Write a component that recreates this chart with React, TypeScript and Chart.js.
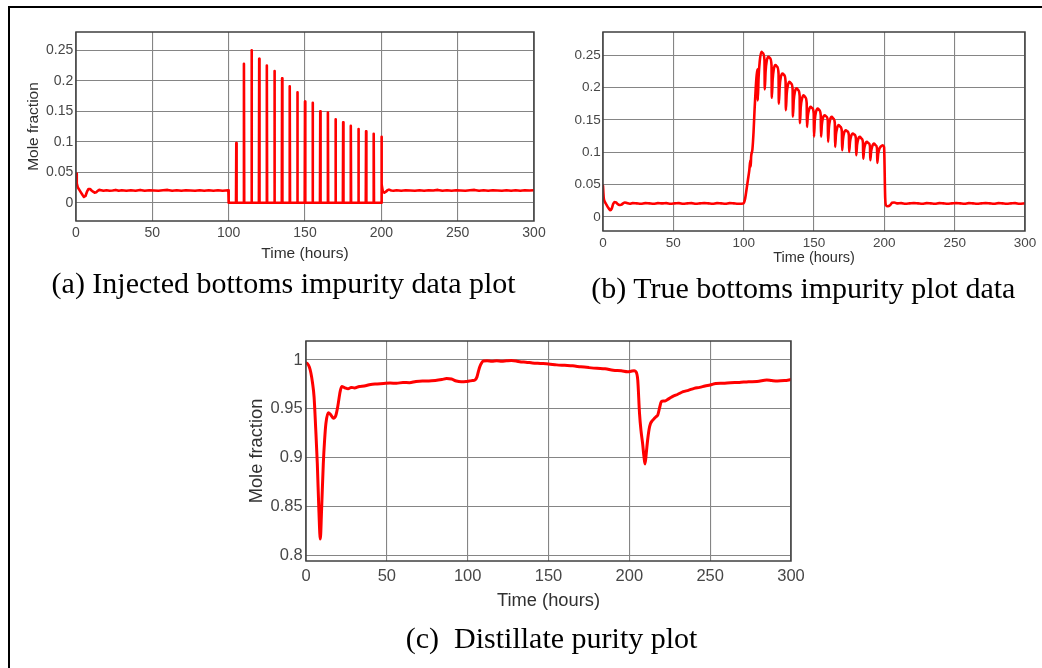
import React, { useEffect, useRef } from "react";
import { Chart, registerables } from "chart.js";

Chart.register(...registerables);

type Pt = [number, number];

// ---------- shared axis content ----------
const timeMin = 0;
const timeMax = 300;
const timeStep = 50;
const xAxisLabel = "Time (hours)";
const yAxisLabel = "Mole fraction";

// ---------- (a) injected bottoms impurity (measured, pulsed) ----------
const injectedStart: Pt[] = [
  [0, 0.048], [0.5, 0.032], [1.2, 0.025], [2.2, 0.021], [3.2, 0.017], [4.2, 0.013],
  [5.2, 0.0095], [6.2, 0.011], [7.2, 0.018], [8.2, 0.0225], [9.2, 0.0225], [10.2, 0.02],
  [11.2, 0.018], [12.2, 0.0165], [13.2, 0.017], [14.2, 0.0195], [15.2, 0.021], [16.5, 0.0205],
  [18, 0.0195], [20, 0.0205], [22, 0.0195], [24, 0.02], [26, 0.021], [28, 0.0195],
  [30, 0.0205], [33, 0.0195], [36, 0.0205], [39, 0.0195], [42, 0.021], [45, 0.0195],
  [48, 0.0205], [51, 0.02], [54, 0.0195], [57, 0.0205], [60, 0.021], [63, 0.0195],
  [66, 0.0205], [69, 0.0195], [72, 0.0205], [75, 0.02], [78, 0.0195], [81, 0.0205],
  [84, 0.0195], [87, 0.0205], [90, 0.0195], [93, 0.0205], [96, 0.0195], [99.8, 0.0205],
];
const injectedPulses: Pt[] = [
  [100, 0], [104.8, 0], [105, 0.098], [105.2, 0],
  [109.8, 0], [110, 0.228], [110.2, 0],
  [114.8, 0], [115, 0.25], [115.2, 0],
  [119.8, 0], [120, 0.236], [120.2, 0],
  [124.8, 0], [125, 0.225], [125.2, 0],
  [129.8, 0], [130, 0.216], [130.2, 0],
  [134.8, 0], [135, 0.204], [135.2, 0],
  [139.8, 0], [140, 0.191], [140.2, 0],
  [144.8, 0], [145, 0.181], [145.2, 0],
  [149.8, 0], [150, 0.166], [150.2, 0],
  [154.8, 0], [155, 0.164], [155.2, 0],
  [159.8, 0], [160, 0.15], [160.2, 0],
  [164.8, 0], [165, 0.148], [165.2, 0],
  [169.8, 0], [170, 0.137], [170.2, 0],
  [174.8, 0], [175, 0.132], [175.2, 0],
  [179.8, 0], [180, 0.126], [180.2, 0],
  [184.8, 0], [185, 0.121], [185.2, 0],
  [189.8, 0], [190, 0.117], [190.2, 0],
  [194.8, 0], [195, 0.113], [195.2, 0],
  [199.8, 0], [200, 0.108], [200.4, 0.03], [201, 0.018],
];
const injectedEnd: Pt[] = [
  [202, 0.0165], [203, 0.018], [204, 0.0205], [205, 0.0215], [206.5, 0.02], [208, 0.0195],
  [210, 0.0205], [213, 0.0195], [216, 0.0205], [219, 0.02], [222, 0.0195], [225, 0.0205],
  [228, 0.0195], [231, 0.0205], [234, 0.02], [237, 0.021], [240, 0.0195], [243, 0.0205],
  [246, 0.0195], [249, 0.0205], [252, 0.02], [255, 0.0195], [258, 0.0205], [261, 0.021],
  [264, 0.0195], [267, 0.0205], [270, 0.0195], [273, 0.0205], [276, 0.02], [279, 0.0195],
  [282, 0.0205], [285, 0.0195], [288, 0.0205], [291, 0.0195], [294, 0.0205], [297, 0.02],
  [300, 0.0205],
];

// ---------- (b) true bottoms impurity ----------
const trueStart: Pt[] = [
  [0, 0.048], [0.5, 0.03], [1.2, 0.024], [2.2, 0.02], [3.2, 0.016], [4.2, 0.013],
  [5.2, 0.0105], [6.2, 0.013], [7.2, 0.02], [8.2, 0.023], [9.2, 0.0225], [10.2, 0.0205],
  [11.2, 0.019], [12.2, 0.0185], [13.2, 0.019], [14.2, 0.021], [15.5, 0.0225], [17, 0.0215],
  [19, 0.0205], [21, 0.0215], [24, 0.021], [27, 0.0205], [30, 0.0215], [33, 0.021],
  [36, 0.0205], [39, 0.0215], [42, 0.021], [45, 0.0215], [48, 0.0205], [51, 0.021],
  [54, 0.0215], [57, 0.0205], [60, 0.021], [63, 0.0215], [66, 0.0205], [69, 0.021],
  [72, 0.0215], [75, 0.021], [78, 0.0205], [81, 0.0215], [84, 0.021], [87, 0.0205],
  [90, 0.0215], [93, 0.021], [96, 0.0205], [99.8, 0.021],
];
const trueArches: Pt[] = [
  [101, 0.028], [102, 0.042], [103, 0.057], [104, 0.072], [104.8, 0.088], [105, 0.078],
  [105.3, 0.093], [106.2, 0.104], [107, 0.13], [107.8, 0.168], [108.6, 0.2], [109.3, 0.22],
  [109.85, 0.228], [110, 0.18], [110.6, 0.215], [111.4, 0.24], [112.6, 0.255], [113.6, 0.253],
  [114.8, 0.242], [115, 0.197], [115.6, 0.225], [116.4, 0.241], [117.6, 0.2474], [118.8, 0.245],
  [119.8, 0.234], [120, 0.184], [120.6, 0.212], [121.4, 0.228], [122.6, 0.2345], [123.8, 0.232],
  [124.8, 0.221], [125, 0.175], [125.6, 0.201], [126.4, 0.216], [127.6, 0.2216], [128.8, 0.219],
  [129.8, 0.209], [130, 0.165], [130.6, 0.19], [131.4, 0.203], [132.6, 0.2088], [133.8, 0.206],
  [134.8, 0.197], [135, 0.155], [135.6, 0.18], [136.4, 0.193], [137.6, 0.1985], [138.8, 0.196],
  [139.8, 0.187], [140, 0.145], [140.6, 0.17], [141.4, 0.182], [142.6, 0.188], [143.8, 0.185],
  [144.8, 0.176], [145, 0.139], [145.6, 0.156], [146.4, 0.165], [147.6, 0.17], [148.8, 0.168],
  [149.8, 0.16], [150, 0.124], [150.6, 0.15], [151.4, 0.162], [152.6, 0.1675], [153.8, 0.165],
  [154.8, 0.157], [155, 0.124], [155.6, 0.143], [156.4, 0.153], [157.6, 0.157], [158.8, 0.155],
  [159.8, 0.149], [160, 0.116], [160.6, 0.138], [161.4, 0.15], [162.6, 0.1546], [163.8, 0.152],
  [164.8, 0.145], [165, 0.108], [165.6, 0.127], [166.4, 0.137], [167.6, 0.1418], [168.8, 0.139],
  [169.8, 0.132], [170, 0.103], [170.6, 0.12], [171.4, 0.13], [172.6, 0.134], [173.8, 0.132],
  [174.8, 0.126], [175, 0.1005], [175.6, 0.116], [176.4, 0.125], [177.6, 0.129], [178.8, 0.127],
  [179.8, 0.121], [180, 0.0954], [180.6, 0.111], [181.4, 0.12], [182.6, 0.1237], [183.8, 0.121],
  [184.8, 0.115], [185, 0.09], [185.6, 0.104], [186.4, 0.112], [187.6, 0.116], [188.8, 0.114],
  [189.8, 0.109], [190, 0.0876], [190.6, 0.101], [191.4, 0.109], [192.6, 0.1134], [193.8, 0.111],
  [194.8, 0.106], [195, 0.0835], [195.6, 0.097], [196.4, 0.105], [197.6, 0.109], [198.8, 0.1108],
  [199.8, 0.108],
];
const trueEnd: Pt[] = [
  [200.6, 0.03], [201.2, 0.018], [202.5, 0.0165], [204, 0.018], [205.5, 0.022], [207, 0.0225],
  [209, 0.021], [212, 0.0215], [215, 0.0205], [218, 0.021], [221, 0.0215], [224, 0.021],
  [227, 0.0205], [230, 0.0215], [233, 0.021], [236, 0.0205], [239, 0.0215], [242, 0.021],
  [245, 0.0205], [248, 0.021], [251, 0.0215], [254, 0.021], [257, 0.0205], [260, 0.0215],
  [263, 0.021], [266, 0.0205], [269, 0.021], [272, 0.0215], [275, 0.021], [278, 0.0205],
  [281, 0.0215], [284, 0.021], [287, 0.0205], [290, 0.021], [293, 0.0215], [296, 0.0205],
  [300, 0.021],
];

// ---------- (c) distillate purity ----------
const distillateStart: Pt[] = [
  [0, 0.997], [1, 0.996], [2, 0.993], [3, 0.987], [4, 0.977], [5, 0.962], [6, 0.93],
  [7, 0.894], [8, 0.845], [8.85, 0.817], [9.6, 0.845], [10.7, 0.894], [11.5, 0.918],
  [12.3, 0.935], [13.8, 0.946], [15.3, 0.944], [16.9, 0.9405], [18.4, 0.943], [19.6, 0.952],
  [21.1, 0.9676], [22.1, 0.973], [24.1, 0.9716], [26, 0.9705], [28, 0.972], [30, 0.9715],
  [33, 0.973], [36, 0.9735], [40, 0.975], [44, 0.9755], [48, 0.976], [52, 0.9765],
  [56, 0.9762], [60, 0.977], [64, 0.9768], [68, 0.978], [72, 0.9785], [76, 0.9785],
  [80, 0.979], [84, 0.98], [87, 0.981], [90, 0.9805], [93, 0.9785], [96, 0.9778],
  [99, 0.978], [101, 0.9785],
];
const distillateMid: Pt[] = [
  [103, 0.979], [104.5, 0.9795], [105.7, 0.9825], [106.6, 0.988], [107.5, 0.993],
  [108.6, 0.997], [109.7, 0.999], [112, 0.9992], [115, 0.9988], [118, 0.9992], [121, 0.9988],
  [124, 0.9992], [127, 0.9995], [130, 0.999], [133, 0.998], [136, 0.9978], [140, 0.997],
  [145, 0.9965], [150, 0.996], [155, 0.995], [160, 0.9945], [165, 0.994], [170, 0.993],
  [175, 0.9922], [180, 0.9915], [185, 0.991], [190, 0.9895], [195, 0.989], [199, 0.988],
  [201, 0.9885], [203, 0.989],
];
const distillateEnd: Pt[] = [
  [204.1, 0.988], [205.2, 0.9796], [206.3, 0.9455], [207.2, 0.928], [208.2, 0.9148],
  [209, 0.902], [209.7, 0.8937], [210.5, 0.905], [211.3, 0.918], [212.2, 0.929],
  [213.1, 0.935], [214.2, 0.938], [215.3, 0.94], [216.5, 0.942], [217.6, 0.9438],
  [218.7, 0.951], [219.8, 0.9574], [221, 0.958], [222.1, 0.958], [224, 0.96],
  [226.6, 0.9625], [230, 0.965], [233.3, 0.9676], [236.5, 0.969], [240.1, 0.971],
  [243.5, 0.972], [246.8, 0.9734], [250, 0.9745], [253.5, 0.976], [258, 0.9762],
  [262.5, 0.9768], [268, 0.977], [273.7, 0.9778], [279, 0.978], [285, 0.9796],
  [288, 0.979], [291.7, 0.9785], [296, 0.979], [300, 0.98],
];

const captionA = "(a) Injected bottoms impurity data plot";
const captionB = "(b) True bottoms impurity plot data";
const captionC = "(c)  Distillate purity plot";

// ---------- layout / styling ----------
const PAGE_W = 1042;
const PAGE_H = 668;
const SANS = '"Liberation Sans", Arial, Helvetica, sans-serif';
const SERIF = '"Liberation Serif", "Times New Roman", serif';
const LINE_RED = "#ff0000";
const GRID = "#858585";
const BOX = "#3f3f3f";
const TICK_TXT = "#474747";
const TITLE_TXT = "#303030";

type PanelSpec = {
  series: Pt[];
  box: { l: number; t: number; r: number; b: number };
  yMin: number;
  yMax: number;
  yStep: number;
  tick: number;
  title: number;
  xTickPad: number;
  xTitleY: number;
  yTickPad: number;
  yTitleX: number | null;
  lw: number;
  smooth: boolean;
};

const panels: PanelSpec[] = [
  {
    series: [...injectedStart, ...injectedPulses, ...injectedEnd],
    box: { l: 76, t: 32, r: 534, b: 221 },
    yMin: -0.03, yMax: 0.28, yStep: 0.05,
    tick: 14, title: 15.5,
    xTickPad: 3.6, xTitleY: 254, yTickPad: 2.7, yTitleX: 33.5, lw: 2.6, smooth: false,
  },
  {
    series: [...trueStart, ...trueArches, ...trueEnd],
    box: { l: 603, t: 32, r: 1025, b: 231 },
    yMin: -0.0216, yMax: 0.2856, yStep: 0.05,
    tick: 13.5, title: 14.5,
    xTickPad: 4.2, xTitleY: 258.3, yTickPad: 2.3, yTitleX: null, lw: 2.6, smooth: true,
  },
  {
    series: [...distillateStart, ...distillateMid, ...distillateEnd],
    box: { l: 306, t: 341, r: 791, b: 561 },
    yMin: 0.7946, yMax: 1.0194, yStep: 0.05,
    tick: 16.5, title: 18.3,
    xTickPad: 5.8, xTitleY: 601, yTickPad: 3.3, yTitleX: 257, lw: 3, smooth: true,
  },
];

const boxPlugin = {
  id: "matlabBox",
  afterDatasetsDraw(chart: any) {
    const { ctx, chartArea: a } = chart;
    ctx.save();
    ctx.strokeStyle = BOX;
    ctx.lineWidth = 1.5;
    ctx.strokeRect(a.left, a.top, a.right - a.left, a.bottom - a.top);
    ctx.restore();
  },
};

const fmt = (v: any) => String(Number(Number(v).toFixed(4)));

function Panel({ spec }: { spec: PanelSpec }) {
  const ref = useRef<HTMLCanvasElement | null>(null);
  useEffect(() => {
    if (!ref.current) return;
    const p = spec;
    const titleLH = p.title * 1.2;
    const chart = new Chart(ref.current, {
      type: "line",
      data: {
        datasets: [
          {
            data: p.series.map(([x, y]) => ({ x, y })),
            borderColor: LINE_RED,
            backgroundColor: LINE_RED,
            borderWidth: p.lw,
            pointRadius: 0,
            tension: 0,
            cubicInterpolationMode: p.smooth ? "monotone" : "default",
            fill: false,
            borderJoinStyle: "round",
            borderCapStyle: "round",
          },
        ],
      },
      options: {
        animation: false,
        responsive: false,
        maintainAspectRatio: false,
        devicePixelRatio: 1,
        events: [],
        parsing: false,
        layout: { padding: { left: 0, top: p.box.t, right: PAGE_W - p.box.r, bottom: 0 } },
        plugins: { legend: { display: false }, tooltip: { enabled: false }, title: { display: false } },
        scales: {
          x: {
            type: "linear",
            position: "bottom",
            min: timeMin,
            max: timeMax,
            afterFit: (s: any) => {
              s.height = PAGE_H - p.box.b;
            },
            ticks: {
              stepSize: timeStep,
              padding: p.xTickPad,
              color: TICK_TXT,
              font: { family: SANS, size: p.tick },
              maxRotation: 0,
              autoSkip: false,
              callback: (v: any) => fmt(v),
            },
            grid: { color: GRID, lineWidth: 1.1, drawTicks: false },
            border: { display: false },
            title: {
              display: true,
              text: xAxisLabel,
              color: TITLE_TXT,
              font: { family: SANS, size: p.title },
              padding: { top: 0, bottom: PAGE_H - p.xTitleY - titleLH / 2 },
            },
          },
          y: {
            type: "linear",
            position: "left",
            min: p.yMin,
            max: p.yMax,
            afterFit: (s: any) => {
              s.width = p.box.l;
            },
            ticks: {
              stepSize: p.yStep,
              includeBounds: false,
              padding: p.yTickPad,
              color: TICK_TXT,
              font: { family: SANS, size: p.tick },
              callback: (v: any) => fmt(v),
            },
            grid: { color: GRID, lineWidth: 1.1, drawTicks: false },
            border: { display: false },
            title: {
              display: p.yTitleX !== null,
              text: yAxisLabel,
              color: TITLE_TXT,
              font: { family: SANS, size: p.title },
              padding: { top: p.yTitleX !== null ? p.yTitleX - titleLH / 2 : 0, bottom: 0 },
            },
          },
        },
      } as any,
      plugins: [boxPlugin],
    });
    return () => chart.destroy();
  }, [spec]);
  return (
    <canvas
      ref={ref}
      width={PAGE_W}
      height={PAGE_H}
      style={{ position: "absolute", left: 0, top: 0, width: PAGE_W, height: PAGE_H, display: "block" }}
    />
  );
}

function Caption({ text, cx, baseline }: { text: string; cx: number; baseline: number }) {
  const size = 30;
  const top = baseline - 25.1;
  return (
    <div
      style={{
        position: "absolute",
        left: cx - 300,
        width: 600,
        top,
        textAlign: "center",
        fontFamily: SERIF,
        fontSize: size,
        lineHeight: `${size}px`,
        color: "#000",
        whiteSpace: "pre",
      }}
    >
      {text}
    </div>
  );
}

export default function App() {
  return (
    <div
      style={{
        position: "fixed",
        left: 0,
        top: 0,
        width: PAGE_W,
        height: PAGE_H,
        background: "#ffffff",
        overflow: "hidden",
      }}
    >
      <div
        style={{
          position: "absolute",
          left: 8,
          top: 6,
          width: 1200,
          height: 800,
          borderLeft: "2px solid #000",
          borderTop: "2px solid #000",
          boxSizing: "border-box",
        }}
      />
      {panels.map((p, i) => (
        <Panel key={i} spec={p} />
      ))}
      <Caption text={captionA} cx={283.6} baseline={293.5} />
      <Caption text={captionB} cx={803.3} baseline={297.7} />
      <Caption text={captionC} cx={551.6} baseline={648.3} />
    </div>
  );
}
